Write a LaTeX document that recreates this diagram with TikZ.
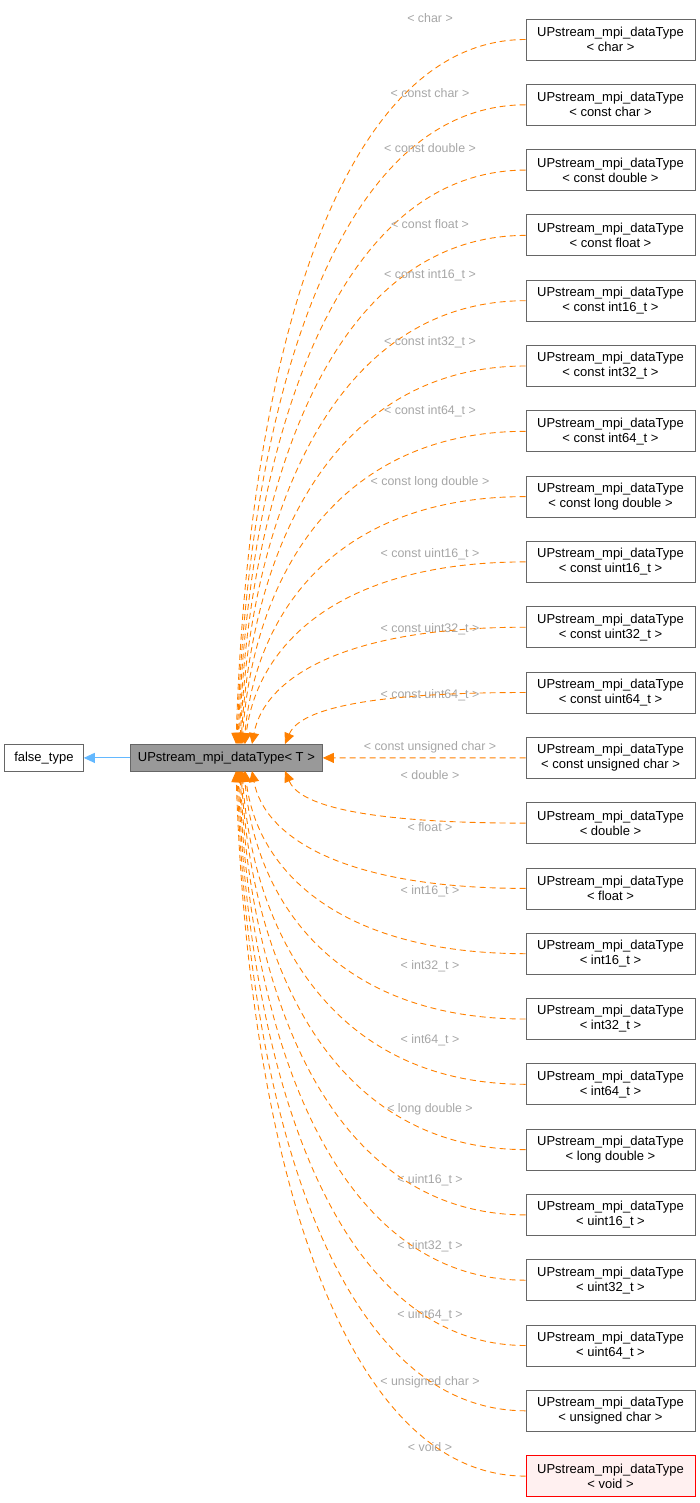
\documentclass[tikz,border=0pt]{standalone}
\usepackage{fontspec}
\setmainfont{Liberation Sans}
\usetikzlibrary{arrows.meta}
\begin{document}
\begin{tikzpicture}[x=1pt,y=-1pt,
  box/.style={draw=black!60,fill=white,line width=0.8pt,minimum width=169pt,minimum height=41pt,inner sep=0pt,align=center,font=\fontsize{13}{15}\selectfont},
  lab/.style={text=black!35,font=\fontsize{12.4}{14}\selectfont,inner sep=0pt},
  dep/.style={draw=orange,line width=0.9pt,dash pattern=on 6pt off 4pt,-{Triangle[length=11pt,width=10pt,fill=orange]}},
]
\useasboundingbox (0,0) rectangle (700,1503);
\node[box,minimum width=79pt,minimum height=27pt,anchor=north west] (ft) at (4,744) {false\_type};
\node[box,minimum width=192pt,minimum height=27pt,anchor=north west,fill=black!40] (main) at (130,744) {UPstream\_mpi\_dataType< T >};
\draw[draw={rgb,255:red,99;green,184;blue,255},line width=0.9pt,-{Triangle[length=11pt,width=10pt]}] (main) -- (ft);
\foreach \i/\t/\ly/\ex in {
0/char/18/236,1/const char/93/237,2/const double/148/238,3/const float/224/239,4/const int16\_t/275/240,5/const int32\_t/342/241,6/const int64\_t/411/242,7/const long double/482/244,8/const uint16\_t/554/245,9/const uint32\_t/629/252,10/const uint64\_t/695/285}{
  \pgfmathsetmacro{\cy}{39.5+65.3*\i}
  \node[box] (n\i) at (610.5,\cy) {UPstream\_mpi\_dataType\\< \t\ >};
  \node[lab] (l\i) at (430,\ly) {< \t\ >};
  \coordinate (e\i) at (\ex,744);
  \pgfmathsetmacro{\cb}{\cy+0.45*(744-\cy)}
  \draw[dep] (n\i.west) .. controls (340,\cy) and (\ex+12,\cb) .. (e\i);
}
\node[box] (n11) at (610.5,757.8) {UPstream\_mpi\_dataType\\< const unsigned char >};
\node[lab] (l11) at (430,747) {< const unsigned char >};
\draw[dep] (n11.west) -- (main.east);
\foreach \i/\t/\ly/\ex in {
12/double/775/285,13/float/827/252,14/int16\_t/891/245,15/int32\_t/966/244,16/int64\_t/1040/242,17/long double/1109/241,18/uint16\_t/1180/240,19/uint32\_t/1246/239,20/uint64\_t/1315/238,21/unsigned char/1382/237}{
  \pgfmathsetmacro{\cy}{39.5+65.3*\i}
  \node[box] (n\i) at (610.5,\cy) {UPstream\_mpi\_dataType\\< \t\ >};
  \node[lab] (l\i) at (430,\ly) {< \t\ >};
  \coordinate (e\i) at (\ex,771);
  \pgfmathsetmacro{\cb}{\cy-0.45*(\cy-771)}
  \draw[dep] (n\i.west) .. controls (340,\cy) and (\ex+12,\cb) .. (e\i);
}
\node[box,draw=red,fill={rgb,255:red,255;green,240;blue,240}] (n22) at (610.5,1476.1) {UPstream\_mpi\_dataType\\< void >};
\node[lab] (l22) at (430,1447) {< void >};
\coordinate (e22) at (236,771);
\draw[dep] (n22.west) .. controls (340,1476.1) and (248,1150) .. (e22);
\end{tikzpicture}
\end{document}
